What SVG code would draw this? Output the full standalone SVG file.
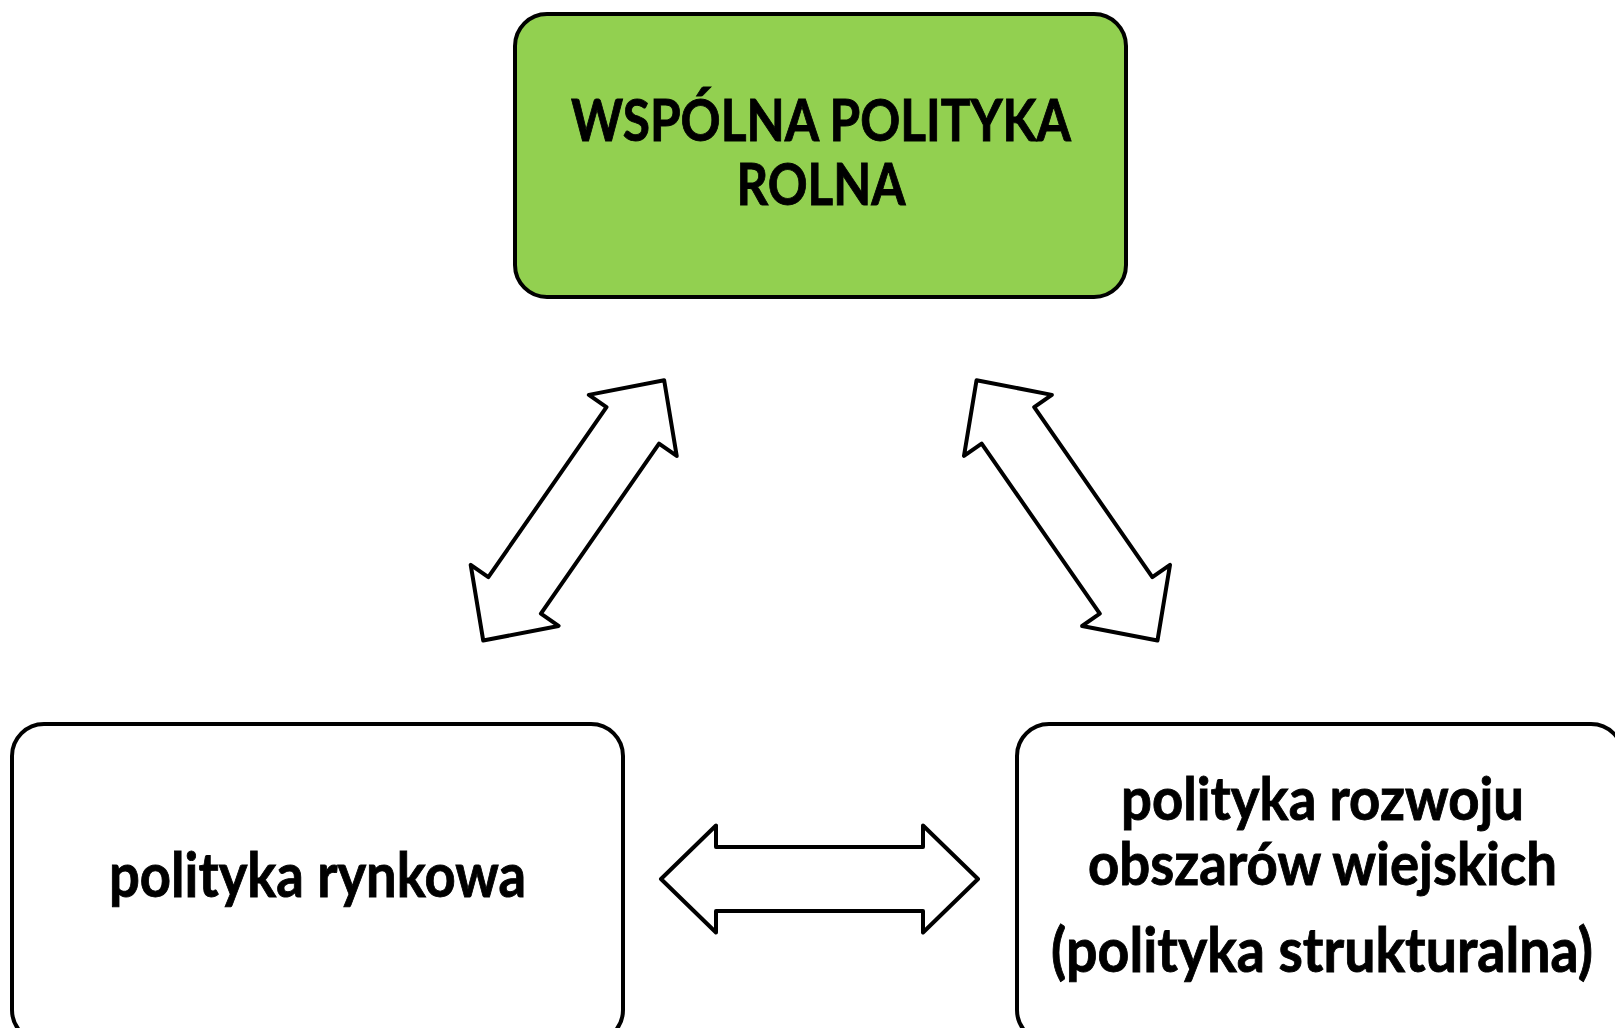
<svg xmlns="http://www.w3.org/2000/svg" width="1615" height="1028" viewBox="0 0 1615 1028">
<style>
.box{stroke:#000;stroke-width:4;}
.t{font-family:Lato,"Open Sans","Liberation Sans",sans-serif;font-weight:bold;fill:#000;stroke:#000;stroke-width:0.9;text-anchor:middle;}
.arr{fill:#fff;stroke:#000;stroke-width:4;stroke-linejoin:round;}
</style>
<defs>
<path id="dbl" d="M -158.5,0 L -103.5,-53.5 L -103.5,-32 L 103.5,-32 L 103.5,-53.5 L 158.5,0 L 103.5,53.5 L 103.5,32 L -103.5,32 L -103.5,53.5 Z"/>
</defs>
<rect width="1615" height="1028" fill="#fff"/>
<g id="wpr">
<rect class="box" x="515" y="14" width="611" height="283" rx="32" fill="#92D050"/>
<text class="t" x="821" y="141" font-size="57" textLength="500" lengthAdjust="spacingAndGlyphs">WSPÓLNA POLITYKA</text>
<text class="t" x="821" y="205" font-size="57" textLength="169" lengthAdjust="spacingAndGlyphs">ROLNA</text>
</g>
<g id="rynkowa">
<rect class="box" x="12" y="724" width="611" height="318" rx="32" fill="#fff"/>
<text class="t" x="317.5" y="897" font-size="61" textLength="417" lengthAdjust="spacingAndGlyphs">polityka rynkowa</text>
</g>
<g id="rozwoj">
<rect class="box" x="1017" y="724" width="606" height="318" rx="32" fill="#fff"/>
<text class="t" x="1322.5" y="820" font-size="59" textLength="403" lengthAdjust="spacingAndGlyphs">polityka rozwoju</text>
<text class="t" x="1322.5" y="885" font-size="59" textLength="469" lengthAdjust="spacingAndGlyphs">obszarów wiejskich</text>
<text class="t" x="1322" y="972" font-size="61" textLength="542" lengthAdjust="spacingAndGlyphs">(polityka strukturalna)</text>
</g>
<g id="connectors">
<use href="#dbl" class="arr" transform="translate(573.7,510.4) rotate(-55.2)"/>
<use href="#dbl" class="arr" transform="translate(1067,510.4) rotate(55.2)"/>
<use href="#dbl" class="arr" transform="translate(819.5,879)"/>
</g>
</svg>
